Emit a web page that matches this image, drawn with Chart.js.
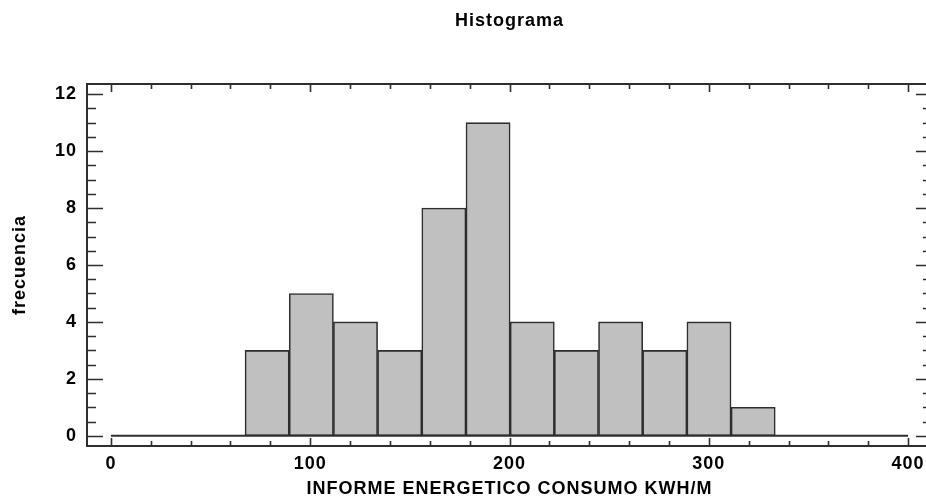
<!DOCTYPE html>
<html>
<head>
<meta charset="utf-8">
<script src="https://cdn.jsdelivr.net/npm/chart.js@4/dist/chart.umd.min.js"></script>
<style>
  html, body { margin: 0; padding: 0; background: #ffffff; overflow: hidden; }
  #wrap { width: 1019px; height: 500px; }
</style>
</head>
<body>
<div id="wrap"><canvas id="chart" width="1019" height="500"></canvas></div>
<script>
// Class midpoints (kWh/m) and frequencies of the histogram
const binCenters = [78.39, 100.56, 122.73, 144.90, 167.07, 189.24, 211.41, 233.58, 255.75, 277.92, 300.09, 322.26];
const frequencies = [3, 5, 4, 3, 8, 11, 4, 3, 4, 3, 4, 1];

// Axis tick labels
const xTickLabels = [0, 100, 200, 300, 400];
const yTickLabels = [0, 2, 4, 6, 8, 10, 12];

// Zero reference line spanning the labelled range
const baselineX = [0, 400];

const FONT = '"Liberation Sans", Arial, sans-serif';
const INK = '#2e2e2e';

// Frame around the plot area with inward-pointing major/minor ticks
const framePlugin = {
  id: 'frameTicks',
  beforeUpdate(chart) { chart.ctx.letterSpacing = '1px'; },
  beforeDraw(chart) { chart.ctx.letterSpacing = '1px'; },
  afterDatasetsDraw(chart) {
    const { ctx, chartArea: a, scales: { x, y } } = chart;
    ctx.save();
    ctx.strokeStyle = INK;
    ctx.lineWidth = 2;
    ctx.beginPath();
    ctx.rect(a.left, a.top, a.right - a.left, a.bottom - a.top);
    ctx.stroke();

    ctx.beginPath();
    // x ticks on bottom and top edges
    for (let v = xTickLabels[0]; v <= xTickLabels[xTickLabels.length - 1] + 1e-9; v += 20) {
      const px = Math.round(x.getPixelForValue(v)) + 0.5;
      const len = (v % 100 === 0) ? 8 : 5;
      ctx.moveTo(px, a.bottom); ctx.lineTo(px, a.bottom - len);
      ctx.moveTo(px, a.top); ctx.lineTo(px, a.top + len);
    }
    // y ticks on left and right edges
    for (let v = yTickLabels[0]; v <= yTickLabels[yTickLabels.length - 1] + 1e-9; v += 0.5) {
      const py = Math.round(y.getPixelForValue(v)) + 0.5;
      const len = (Math.abs(v % 2) < 1e-9) ? 16 : 9;
      ctx.moveTo(a.left, py); ctx.lineTo(a.left + len, py);
      ctx.moveTo(a.right, py); ctx.lineTo(a.right - len, py);
    }
    ctx.lineWidth = 1.6;
    ctx.stroke();
    ctx.restore();
  }
};

new Chart(document.getElementById('chart'), {
  type: 'bar',
  data: {
    datasets: [
      {
        type: 'bar',
        label: 'frecuencia',
        data: binCenters.map((c, i) => ({ x: c, y: frequencies[i] })),
        backgroundColor: '#c0c0c0',
        borderColor: INK,
        borderWidth: 1.6,
        borderSkipped: false,
        barPercentage: 1,
        categoryPercentage: 1,
        order: 2
      },
      {
        type: 'line',
        label: 'base',
        data: baselineX.map(v => ({ x: v, y: 0 })),
        borderColor: INK,
        borderWidth: 2,
        pointRadius: 0,
        fill: false,
        order: 1
      }
    ]
  },
  options: {
    responsive: false,
    animation: false,
    devicePixelRatio: 1,
    layout: { padding: 0 },
    plugins: {
      legend: { display: false },
      tooltip: { enabled: false },
      title: {
        display: true,
        text: 'Histograma',
        color: '#000',
        font: { family: FONT, size: 18, weight: 'bold', lineHeight: 1.2 },
        padding: { top: 10.5, bottom: 51.9 }
      }
    },
    scales: {
      x: {
        type: 'linear',
        offset: false,
        min: -12,
        max: 412,
        grid: { display: false, drawTicks: false },
        border: { display: false },
        afterBuildTicks: s => { s.ticks = xTickLabels.map(v => ({ value: v })); },
        afterFit: s => { s.height = 54; },
        ticks: {
          includeBounds: false,
          autoSkip: false,
          maxRotation: 0,
          padding: 7,
          color: '#000',
          font: { family: FONT, size: 18, weight: 'bold', lineHeight: 1.2 }
        },
        title: {
          display: true,
          text: 'INFORME ENERGETICO CONSUMO KWH/M',
          color: '#000',
          font: { family: FONT, size: 18, weight: 'bold', lineHeight: 1.2 },
          padding: { top: 0, bottom: 0 }
        }
      },
      y: {
        min: -0.36,
        max: 12.36,
        grid: { display: false, drawTicks: false },
        border: { display: false },
        afterBuildTicks: s => { s.ticks = yTickLabels.map(v => ({ value: v })); },
        afterFit: s => { s.width = 87; },
        ticks: {
          includeBounds: false,
          autoSkip: false,
          padding: 10,
          color: '#000',
          font: { family: FONT, size: 18, weight: 'bold', lineHeight: 1.2 }
        },
        title: {
          display: true,
          text: 'frecuencia',
          color: '#000',
          font: { family: FONT, size: 18, weight: 'bold', lineHeight: 1.2 },
          padding: { top: 9, bottom: 0 }
        }
      },
      // empty right-hand margin matching the left axis, keeps the plot centred
      yRight: {
        position: 'right',
        grid: { display: false, drawTicks: false },
        border: { display: false },
        ticks: { display: false },
        afterFit: s => { s.width = 87; }
      }
    }
  },
  plugins: [framePlugin]
});
</script>
</body>
</html>
